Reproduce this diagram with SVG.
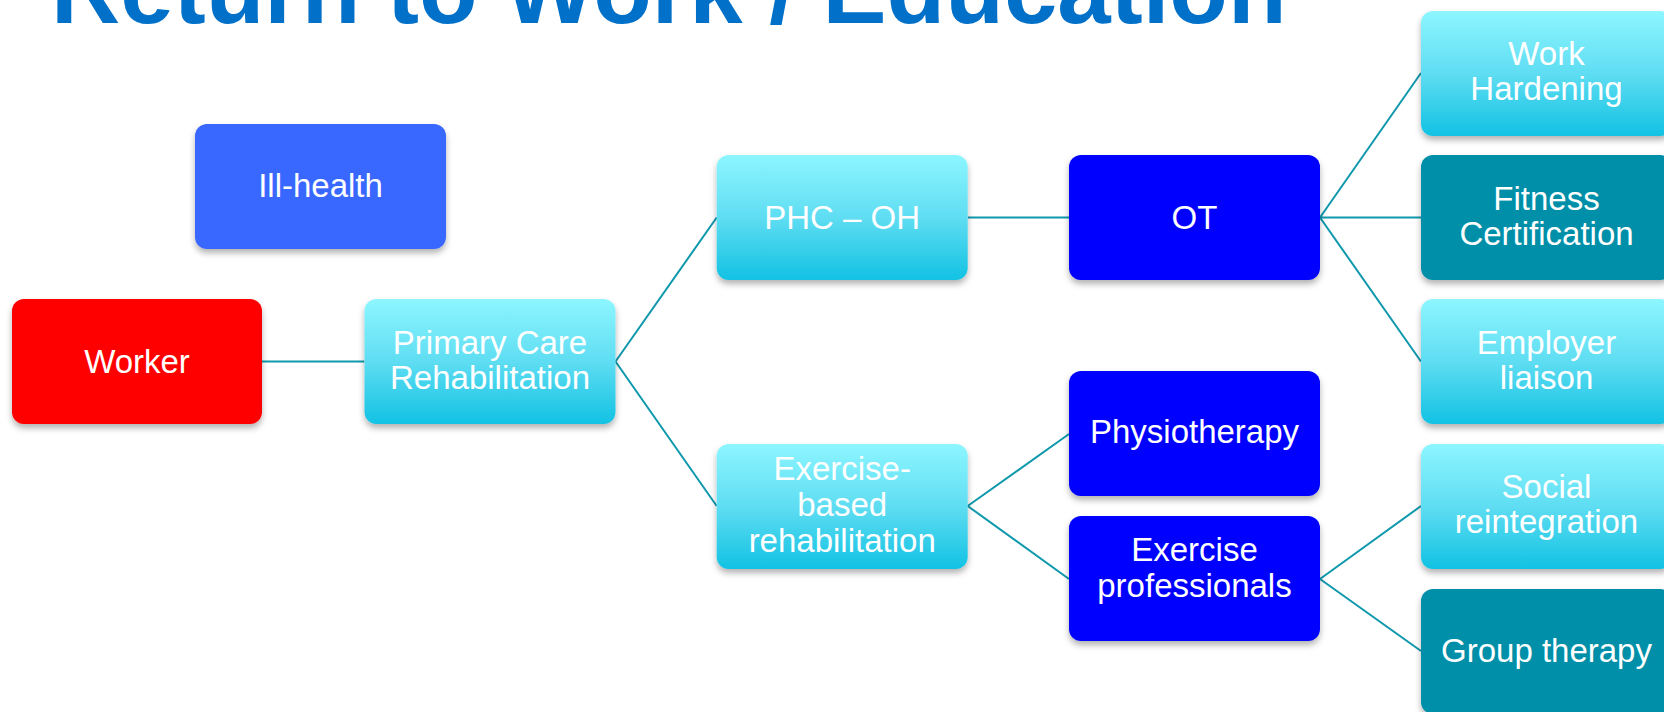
<svg xmlns="http://www.w3.org/2000/svg" width="1664" height="712" viewBox="0 0 1664 712">
  <defs>
    <linearGradient id="cyanFill" x1="0" y1="0" x2="0" y2="1">
      <stop offset="0" stop-color="#8DF6FF"/>
      <stop offset="0.5" stop-color="#5FDDF2"/>
      <stop offset="1" stop-color="#12C2E3"/>
    </linearGradient>
    <filter id="shadow" x="-10%" y="-10%" width="120%" height="130%">
      <feDropShadow dx="0" dy="4" stdDeviation="3" flood-color="#000" flood-opacity="0.3"/>
    </filter>
  </defs>
  <style>
    .box { filter: url(#shadow); }
    .red { fill: #FF0000; }
    .mid { fill: #3867FF; }
    .blue { fill: #0000FF; }
    .cyan { fill: url(#cyanFill); }
    .teal { fill: #008FA8; }
    .lbl { font-family: "Liberation Sans", Arial, sans-serif; font-size: 33px; fill: #FFFFFF; text-anchor: middle; }
    .title { font-family: "Liberation Sans", Arial, sans-serif; font-size: 96px; font-weight: bold; fill: #0070C8; }
    .conn { stroke: #0E98AC; stroke-width: 2; fill: none; }
  </style>

  <rect width="1664" height="712" fill="#FFFFFF"/>

  <text class="title" x="51" y="23">Return to Work / Education</text>

  <!-- connectors -->
  <g id="connectors">
    <path class="conn" d="M262,361.5 H364.5"/>
    <path class="conn" d="M615.5,361.5 L716.7,217.5 M615.5,361.5 L716.7,506"/>
    <path class="conn" d="M967.7,217.5 H1069"/>
    <path class="conn" d="M1320,217.5 L1421,73 M1320,217.5 H1421 M1320,217.5 L1421,361.5"/>
    <path class="conn" d="M967.7,506 L1069,434 M967.7,506 L1069,579"/>
    <path class="conn" d="M1320,579 L1421,506 M1320,579 L1421,651"/>
  </g>

  <!-- nodes -->
  <g id="ill-health">
    <rect class="box mid" x="195" y="124" width="251" height="125" rx="12"/>
    <text class="lbl" x="320.5" y="197">Ill-health</text>
  </g>
  <g id="worker">
    <rect class="box red" x="12" y="299" width="250" height="125" rx="12"/>
    <text class="lbl" x="137" y="373">Worker</text>
  </g>
  <g id="primary-care">
    <rect class="box cyan" x="364.5" y="299" width="251" height="125" rx="12"/>
    <text class="lbl" x="490" y="354">Primary Care</text>
    <text class="lbl" x="490" y="389">Rehabilitation</text>
  </g>
  <g id="phc-oh">
    <rect class="box cyan" x="716.7" y="155" width="251" height="125" rx="12"/>
    <text class="lbl" x="842.2" y="229">PHC – OH</text>
  </g>
  <g id="exercise-based">
    <rect class="box cyan" x="716.7" y="444" width="251" height="125" rx="12"/>
    <text class="lbl" x="842.2" y="480">Exercise-</text>
    <text class="lbl" x="842.2" y="516">based</text>
    <text class="lbl" x="842.2" y="552">rehabilitation</text>
  </g>
  <g id="ot">
    <rect class="box blue" x="1069" y="155" width="251" height="125" rx="12"/>
    <text class="lbl" x="1194.5" y="229">OT</text>
  </g>
  <g id="physiotherapy">
    <rect class="box blue" x="1069" y="371" width="251" height="125" rx="12"/>
    <text class="lbl" x="1194.5" y="443">Physiotherapy</text>
  </g>
  <g id="exercise-professionals">
    <rect class="box blue" x="1069" y="516" width="251" height="125" rx="12"/>
    <text class="lbl" x="1194.5" y="561">Exercise</text>
    <text class="lbl" x="1194.5" y="597">professionals</text>
  </g>
  <g id="work-hardening">
    <rect class="box cyan" x="1421" y="11" width="251" height="125" rx="12"/>
    <text class="lbl" x="1546.5" y="65">Work</text>
    <text class="lbl" x="1546.5" y="100">Hardening</text>
  </g>
  <g id="fitness-certification">
    <rect class="box teal" x="1421" y="155" width="251" height="125" rx="12"/>
    <text class="lbl" x="1546.5" y="210">Fitness</text>
    <text class="lbl" x="1546.5" y="245">Certification</text>
  </g>
  <g id="employer-liaison">
    <rect class="box cyan" x="1421" y="299" width="251" height="125" rx="12"/>
    <text class="lbl" x="1546.5" y="354">Employer</text>
    <text class="lbl" x="1546.5" y="389">liaison</text>
  </g>
  <g id="social-reintegration">
    <rect class="box cyan" x="1421" y="444" width="251" height="125" rx="12"/>
    <text class="lbl" x="1546.5" y="498">Social</text>
    <text class="lbl" x="1546.5" y="533">reintegration</text>
  </g>
  <g id="group-therapy">
    <rect class="box teal" x="1421" y="589" width="251" height="125" rx="12"/>
    <text class="lbl" x="1546.5" y="662">Group therapy</text>
  </g>
</svg>
